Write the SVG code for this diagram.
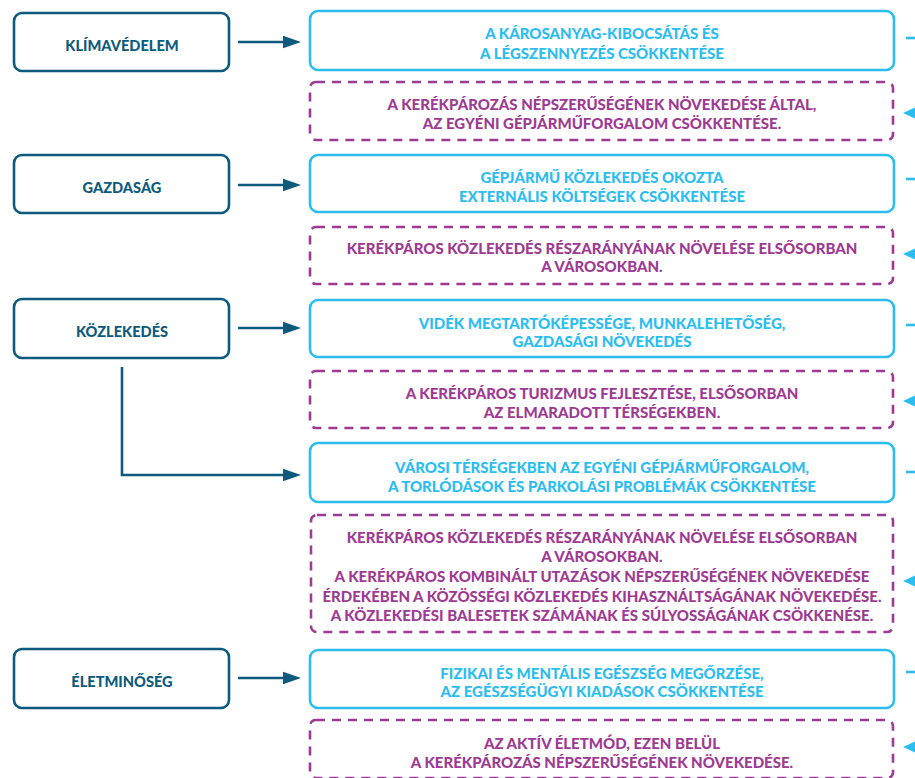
<svg xmlns="http://www.w3.org/2000/svg" width="915" height="778" viewBox="0 0 915 778">
<style>
text{font-family:Lato,"Open Sans","Liberation Sans",sans-serif;font-weight:900;font-size:15px;text-anchor:middle}
.src rect{fill:#fff;stroke:#0d5a7c;stroke-width:2.6}
.src text{fill:#0d5a7c;font-size:14.6px}
.goal rect{fill:#fff;stroke:#2cbdee;stroke-width:2.6}
.goal text{fill:#2cbdee}
.act rect{fill:#fff;stroke:#9d3b92;stroke-width:2.6;stroke-dasharray:9 7}
.act text{fill:#9d3b92}
.ln{fill:none;stroke:#0d5a7c;stroke-width:2.6}
.ah{fill:#0d5a7c}
.cl{fill:none;stroke:#2cbdee;stroke-width:2.6}
.ch{fill:#2cbdee}
</style>
<g id="klima" class="src"><rect x="14" y="13" width="215" height="58" rx="8"/><text x="122" y="51">KLÍMAVÉDELEM</text></g>
<g id="gazdasag" class="src"><rect x="14" y="155" width="215" height="58" rx="8"/><text x="122" y="193">GAZDASÁG</text></g>
<g id="kozlekedes" class="src"><rect x="14" y="299" width="215" height="59" rx="8"/><text x="122" y="337">KÖZLEKEDÉS</text></g>
<g id="eletminoseg" class="src"><rect x="14" y="649" width="215" height="59" rx="8"/><text x="122" y="687">ÉLETMINŐSÉG</text></g>

<g id="goal1" class="goal"><rect x="310" y="11" width="584" height="59" rx="8"/><text x="602" y="39">A KÁROSANYAG-KIBOCSÁTÁS ÉS</text><text x="602" y="59">A LÉGSZENNYEZÉS CSÖKKENTÉSE</text></g>
<g id="act1" class="act"><rect x="310" y="82" width="583" height="58" rx="6"/><text x="602" y="110">A KERÉKPÁROZÁS NÉPSZERŰSÉGÉNEK NÖVEKEDÉSE ÁLTAL,</text><text x="602" y="129">AZ EGYÉNI GÉPJÁRMŰFORGALOM CSÖKKENTÉSE.</text></g>
<g id="goal2" class="goal"><rect x="310" y="155" width="584" height="57" rx="8"/><text x="602" y="183">GÉPJÁRMŰ KÖZLEKEDÉS OKOZTA</text><text x="602" y="202">EXTERNÁLIS KÖLTSÉGEK CSÖKKENTÉSE</text></g>
<g id="act2" class="act"><rect x="310" y="227" width="583" height="57" rx="6"/><text x="602" y="254">KERÉKPÁROS KÖZLEKEDÉS RÉSZARÁNYÁNAK NÖVELÉSE ELSŐSORBAN</text><text x="602" y="272">A VÁROSOKBAN.</text></g>
<g id="goal3" class="goal"><rect x="310" y="300" width="584" height="57" rx="8"/><text x="602" y="329">VIDÉK MEGTARTÓKÉPESSÉGE, MUNKALEHETŐSÉG,</text><text x="602" y="347">GAZDASÁGI NÖVEKEDÉS</text></g>
<g id="act3" class="act"><rect x="310" y="371" width="583" height="57" rx="6"/><text x="602" y="399">A KERÉKPÁROS TURIZMUS FEJLESZTÉSE, ELSŐSORBAN</text><text x="602" y="418">AZ ELMARADOTT TÉRSÉGEKBEN.</text></g>
<g id="goal4" class="goal"><rect x="310" y="443" width="584" height="59" rx="8"/><text x="602" y="473">VÁROSI TÉRSÉGEKBEN AZ EGYÉNI GÉPJÁRMŰFORGALOM,</text><text x="602" y="492">A TORLÓDÁSOK ÉS PARKOLÁSI PROBLÉMÁK CSÖKKENTÉSE</text></g>
<g id="act4" class="act"><rect x="311" y="515" width="582" height="117" rx="6"/><text x="602" y="543">KERÉKPÁROS KÖZLEKEDÉS RÉSZARÁNYÁNAK NÖVELÉSE ELSŐSORBAN</text><text x="602" y="562">A VÁROSOKBAN.</text><text x="602" y="582">A KERÉKPÁROS KOMBINÁLT UTAZÁSOK NÉPSZERŰSÉGÉNEK NÖVEKEDÉSE</text><text x="602" y="602">ÉRDEKÉBEN A KÖZÖSSÉGI KÖZLEKEDÉS KIHASZNÁLTSÁGÁNAK NÖVEKEDÉSE.</text><text x="602" y="621">A KÖZLEKEDÉSI BALESETEK SZÁMÁNAK ÉS SÚLYOSSÁGÁNAK CSÖKKENÉSE.</text></g>
<g id="goal5" class="goal"><rect x="310" y="650" width="584" height="58" rx="8"/><text x="602" y="679">FIZIKAI ÉS MENTÁLIS EGÉSZSÉG MEGŐRZÉSE,</text><text x="602" y="697">AZ EGÉSZSÉGÜGYI KIADÁSOK CSÖKKENTÉSE</text></g>
<g id="act5" class="act"><rect x="310" y="720" width="583" height="58" rx="6"/><text x="602" y="749">AZ AKTÍV ÉLETMÓD, EZEN BELÜL</text><text x="602" y="768">A KERÉKPÁROZÁS NÉPSZERŰSÉGÉNEK NÖVEKEDÉSE.</text></g>

<g id="connectors">
<line class="ln" x1="238" y1="42" x2="286" y2="42"/><polygon class="ah" points="301,42 283,35.7 283,48.3"/>
<line class="ln" x1="238" y1="185" x2="286" y2="185"/><polygon class="ah" points="301,185 283,178.7 283,191.3"/>
<line class="ln" x1="238" y1="328" x2="286" y2="328"/><polygon class="ah" points="301,328 283,321.7 283,334.3"/>
<polyline class="ln" points="122,367 122,475 286,475"/><polygon class="ah" points="301,475 283,468.7 283,481.3"/>
<line class="ln" x1="238" y1="678" x2="286" y2="678"/><polygon class="ah" points="301,678 283,671.7 283,684.3"/>
<line class="cl" x1="906" y1="38" x2="915" y2="38"/>
<line class="cl" x1="906" y1="179" x2="915" y2="179"/>
<line class="cl" x1="906" y1="325" x2="915" y2="325"/>
<line class="cl" x1="906" y1="472" x2="915" y2="472"/>
<line class="cl" x1="906" y1="672" x2="915" y2="672"/>
<polygon class="ch" points="903,113 918,106 918,120"/>
<polygon class="ch" points="903,254 918,247 918,261"/>
<polygon class="ch" points="903,401 918,394 918,408"/>
<polygon class="ch" points="903,581 918,574 918,588"/>
<polygon class="ch" points="903,747 918,740 918,754"/>
</g>
</svg>
